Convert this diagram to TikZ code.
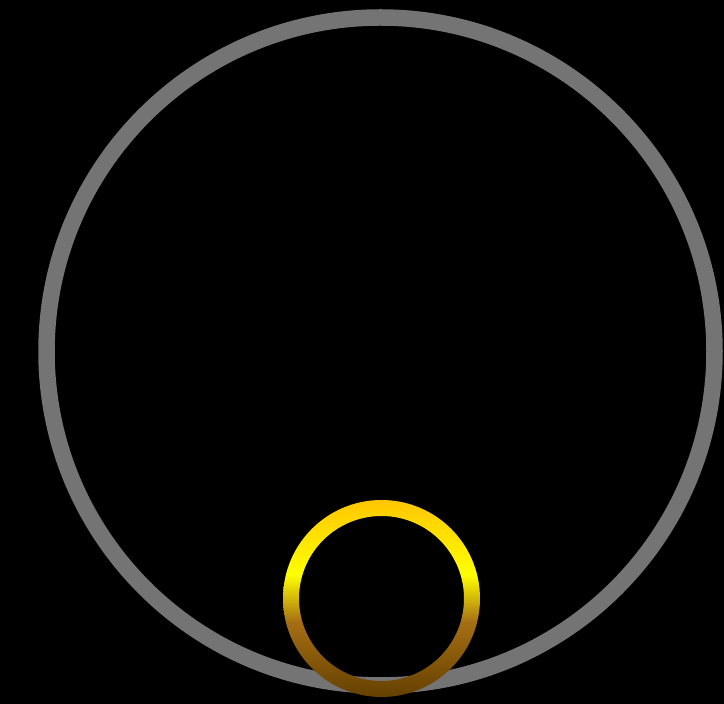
\documentclass[tikz,border=0pt]{standalone}
\usetikzlibrary{shadings}
\definecolor{ringgray}{RGB}{116,116,116}
\definecolor{ringtop}{RGB}{255,198,0}
\definecolor{ringmid}{RGB}{255,255,0}
\definecolor{ringlow}{RGB}{165,110,20}
\definecolor{ringbot}{RGB}{100,64,0}
\pgfdeclareverticalshading{goldring}{100bp}{color(0bp)=(ringbot); color(25bp)=(ringbot); color(44bp)=(ringlow); color(56bp)=(ringmid); color(75bp)=(ringtop); color(100bp)=(ringtop)}
\tikzset{bigring/.style={draw=ringgray, line width=16.5pt}}
\begin{document}
\begin{tikzpicture}[x=1pt,y=1pt]
\fill[black] (0,0) rectangle (724,704);
\useasboundingbox (0,0) rectangle (724,704);
\coordinate (bigc) at (380.5,352.5);
\coordinate (smallc) at (381.5,105.5);
\draw[bigring] (bigc) circle (334);
\shade[shading=goldring, even odd rule] (smallc) circle (98.5) (smallc) circle (82.5);
\end{tikzpicture}
\end{document}
